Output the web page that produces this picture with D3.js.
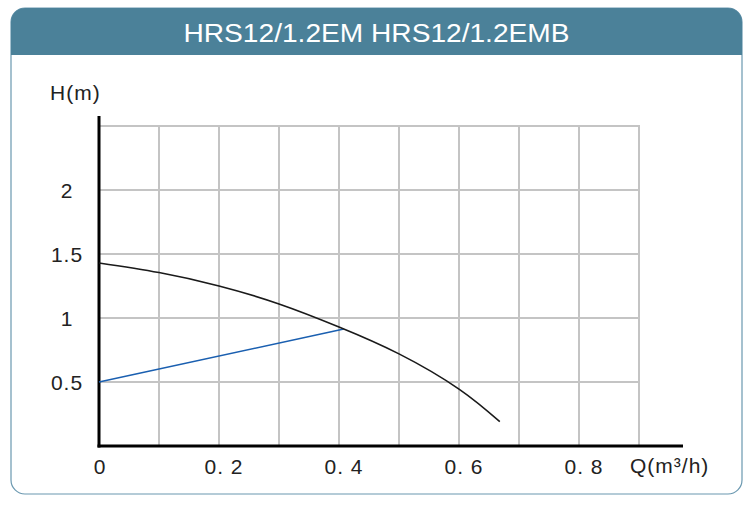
<!DOCTYPE html>
<html>
<head>
<meta charset="utf-8">
<script src="https://cdn.jsdelivr.net/npm/d3@7"></script>
<style>
  html, body { margin: 0; padding: 0; background: #fff; }
  svg { display: block; font-family: "Liberation Sans", Arial, sans-serif; }
</style>
</head>
<body>
<svg id="chart" width="756" height="513"></svg>
<script>
const title = "HRS12/1.2EM HRS12/1.2EMB";
const xTickValues = [0, 0.2, 0.4, 0.6, 0.8];
const xTickLabels = ["0", "0. 2", "0. 4", "0. 6", "0. 8"];
const yTickValues = [0.5, 1, 1.5, 2];
const yTickLabels = ["0.5", "1", "1.5", "2"];
const xGridValues = [0.1, 0.2, 0.3, 0.4, 0.5, 0.6, 0.7, 0.8, 0.9];
const yGridValues = [0.5, 1, 1.5, 2, 2.5];
const curveQ = [0, 0.1, 0.2, 0.3, 0.4, 0.5, 0.6, 0.668];
const curveH = [1.43, 1.355, 1.25, 1.11, 0.93, 0.72, 0.445, 0.19];
const systemQ = [0, 0.408];
const systemH = [0.5, 0.914];

const svg = d3.select("#chart");

// Frame
const fx = 11, fy = 8, fw = 731, fh = 486, r = 14;
svg.append("rect").attr("x", fx).attr("y", fy).attr("width", fw).attr("height", fh)
  .attr("rx", r).attr("ry", r).attr("fill", "#fff").attr("stroke", "#6a98b0").attr("stroke-width", 1.2);
const hh = 47;
svg.append("path")
  .attr("d", `M${fx},${fy + hh} L${fx},${fy + r} A${r},${r} 0 0 1 ${fx + r},${fy} L${fx + fw - r},${fy} A${r},${r} 0 0 1 ${fx + fw},${fy + r} L${fx + fw},${fy + hh} Z`)
  .attr("fill", "#4b8199");
svg.append("text").attr("x", 376.5).attr("y", 41.5).attr("text-anchor", "middle")
  .attr("fill", "#fff").attr("font-size", 26).attr("textLength", 386).attr("lengthAdjust", "spacingAndGlyphs")
  .text(title);

// Scales
const x = d3.scaleLinear().domain([0, 0.1]).range([99, 159]);
const y = d3.scaleLinear().domain([0, 0.5]).range([446, 382]);

// Grid
const g = svg.append("g");
g.selectAll("line.vg").data(xGridValues).join("line").attr("class", "vg")
  .attr("x1", d => x(d)).attr("x2", d => x(d)).attr("y1", y(2.5)).attr("y2", y(0))
  .attr("stroke", "#c4c4c4").attr("stroke-width", 2);
g.selectAll("line.hg").data(yGridValues).join("line").attr("class", "hg")
  .attr("x1", x(0)).attr("x2", x(0.9) + 1).attr("y1", d => y(d)).attr("y2", d => y(d))
  .attr("stroke", "#c4c4c4").attr("stroke-width", 2);

// Axes lines
svg.append("line").attr("x1", x(0)).attr("x2", x(0)).attr("y1", 116).attr("y2", y(0) + 1.5)
  .attr("stroke", "#000").attr("stroke-width", 3);
svg.append("line").attr("x1", x(0) - 1.5).attr("x2", 683).attr("y1", y(0)).attr("y2", y(0))
  .attr("stroke", "#000").attr("stroke-width", 3);

// Tick labels
const labelStyle = sel => sel.attr("font-size", 21).attr("fill", "#222").attr("letter-spacing", 1);
svg.selectAll("text.yl").data(yTickValues).join("text").attr("class", "yl")
  .attr("x", 67).attr("y", d => y(d) + 7.5).attr("text-anchor", "middle")
  .call(labelStyle)
  .text((d, i) => yTickLabels[i]);
svg.selectAll("text.xl").data(xTickValues).join("text").attr("class", "xl")
  .attr("x", d => x(d) + (d === 0 ? 1 : 5)).attr("y", 474).attr("text-anchor", "middle")
  .call(labelStyle)
  .text((d, i) => xTickLabels[i]);

svg.append("text").attr("x", 50).attr("y", 100).call(labelStyle).text("H(m)");
svg.append("text").attr("x", 630).attr("y", 473).call(labelStyle).text("Q(m³/h)");

// Curves
const curveData = curveQ.map((q, i) => [q, curveH[i]]);
const sysData = systemQ.map((q, i) => [q, systemH[i]]);
const line = d3.line().x(d => x(d[0])).y(d => y(d[1]));
svg.append("path").datum(sysData).attr("d", line).attr("fill", "none")
  .attr("stroke", "#1a5fb0").attr("stroke-width", 1.6);
svg.append("path").datum(curveData).attr("d", line.curve(d3.curveNatural)).attr("fill", "none")
  .attr("stroke", "#1a1a1a").attr("stroke-width", 1.6);
</script>
</body>
</html>
